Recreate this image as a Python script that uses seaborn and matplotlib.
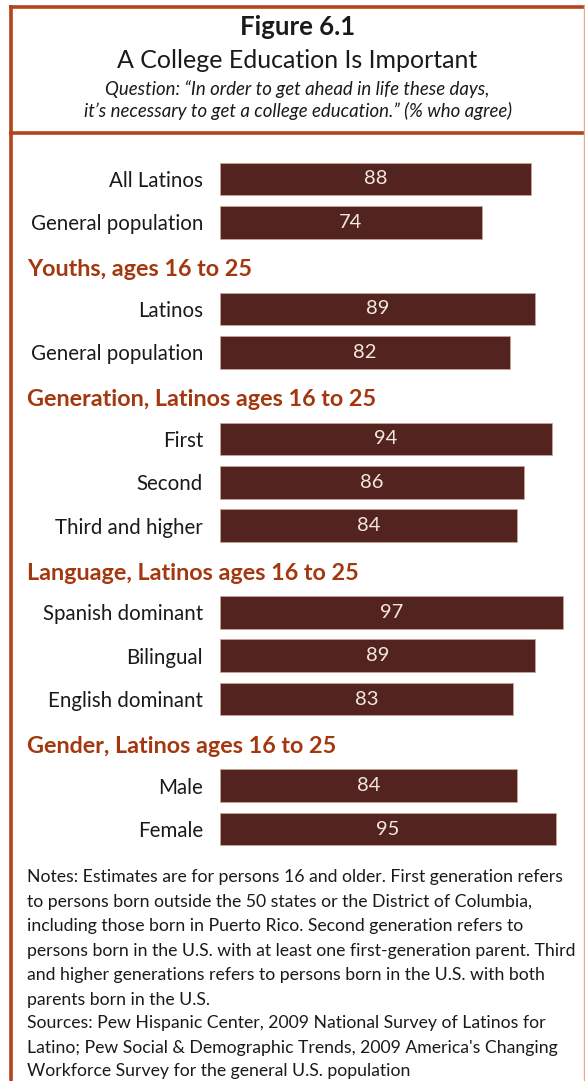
import pandas as pd
import seaborn as sns
import matplotlib.pyplot as plt
from matplotlib.transforms import blended_transform_factory
from matplotlib.lines import Line2D

# ---- data -------------------------------------------------------------
overall_labels = ["All Latinos", "General population"]
overall_values = [88, 74]

youth_title = "Youths, ages 16 to 25"
youth_labels = ["Latinos", "General population"]
youth_values = [89, 82]

generation_title = "Generation, Latinos ages 16 to 25"
generation_labels = ["First", "Second", "Third and higher"]
generation_values = [94, 86, 84]

language_title = "Language, Latinos ages 16 to 25"
language_labels = ["Spanish dominant", "Bilingual", "English dominant"]
language_values = [97, 89, 83]

gender_title = "Gender, Latinos ages 16 to 25"
gender_labels = ["Male", "Female"]
gender_values = [84, 95]

fig_title = "Figure 6.1"
fig_subtitle = "A College Education Is Important"
question_lines = [
    "Question: \u201cIn order to get ahead in life these days,",
    "it\u2019s necessary to get a college education.\u201d (% who agree)",
]
note_lines = [
    "Notes: Estimates are for persons 16 and older. First generation refers",
    "to persons born outside the 50 states or the District of Columbia,",
    "including those born in Puerto Rico. Second generation refers to",
    "persons born in the U.S. with at least one first-generation parent. Third",
    "and higher generations refers to persons born in the U.S. with both",
    "parents born in the U.S.",
    "Sources: Pew Hispanic Center, 2009 National Survey of Latinos for",
    "Latino; Pew Social & Demographic Trends, 2009 America's Changing",
    "Workforce Survey for the general U.S. population",
]

# ---- table of rows (section headers get an empty slot) -----------------
sections = [
    (None, overall_labels, overall_values),
    (youth_title, youth_labels, youth_values),
    (generation_title, generation_labels, generation_values),
    (language_title, language_labels, language_values),
    (gender_title, gender_labels, gender_values),
]
order, tick_labels, header_rows, records = [], [], [], []
for title, labels, values in sections:
    if title is not None:
        header_rows.append((len(order), title))
        order.append("#" + title)
        tick_labels.append("")
    for lab, val in zip(labels, values):
        key = f"{title}|{lab}"
        order.append(key)
        tick_labels.append(lab)
        records.append({"key": key, "value": val})
df = pd.DataFrame(records)

# ---- style ------------------------------------------------------------
sns.set_style("white")
plt.rcParams["font.family"] = ["Lato", "DejaVu Sans"]

BAR = "#532320"
BAR_EDGE = "#caa294"
HEAD = "#a3380f"
FRAME = "#b4441c"
TEXT = "#1a1a1a"

W, H = 585, 1081
fig = plt.figure(figsize=(W / 100, H / 100), dpi=100)
fig.patch.set_facecolor("white")

# axes placement in pixels: value 0 at x=220, 100 at x=573; rows 43.33 px apart
x0, x1 = 220, 573.4
y_top, y_bot = 157.3, 850.7
ax = fig.add_axes([x0 / W, 1 - y_bot / H, (x1 - x0) / W, (y_bot - y_top) / H])

sns.barplot(data=df, x="value", y="key", order=order, orient="h",
            color=BAR, saturation=1, width=0.76,
            edgecolor=BAR_EDGE, linewidth=0.6, ax=ax)

ax.set_xlim(0, 100)
ax.set_ylim(len(order) - 0.5, -0.5)
ax.set_yticks(range(len(order)))
ax.set_yticklabels(tick_labels, fontsize=14.8, color=TEXT)
ax.tick_params(axis="y", length=0, pad=12.2)
ax.xaxis.set_visible(False)
ax.set_ylabel("")
for s in ax.spines.values():
    s.set_visible(False)
ax.set_facecolor("none")

ax.bar_label(ax.containers[0], fmt="%.0f", label_type="center",
             color="#f4e8dc", fontsize=14.5)

trans = blended_transform_factory(fig.transFigure, ax.transData)
for row, title in header_rows:
    ax.text(27 / W, row + 0.1, title, transform=trans, ha="left", va="center",
            fontsize=16.8, fontweight="bold", color=HEAD)

# ---- heading ----------------------------------------------------------
cx = 297.5 / W
fig.text(cx, 1 - 27 / H, fig_title, ha="center", va="center",
         fontsize=18.5, fontweight="bold", color=TEXT)
fig.text(cx, 1 - 61 / H, fig_subtitle, ha="center", va="center",
         fontsize=18, color=TEXT)
for i, line in enumerate(question_lines):
    fig.text(cx, 1 - (89 + 22 * i) / H, line, ha="center", va="center",
             fontsize=13.4, style="italic", color=TEXT)

# ---- notes ------------------------------------------------------------
note_y = [877, 902, 926, 951, 975, 1000, 1023, 1048, 1071]
for y, line in zip(note_y, note_lines):
    fig.text(27 / W, 1 - y / H, line, ha="left", va="center",
             fontsize=12.7, color=TEXT)

# ---- frame ------------------------------------------------------------
def hline(y, xa, xb, color, lw):
    fig.add_artist(Line2D([xa / W, xb / W], [1 - y / H, 1 - y / H],
                          color=color, lw=lw, solid_capstyle="butt"))

def vline(x, ya, yb, color, lw):
    fig.add_artist(Line2D([x / W, x / W], [1 - ya / H, 1 - yb / H],
                          color=color, lw=lw, solid_capstyle="butt"))

hline(6.5, 9, W, FRAME, 2.6)
hline(132.5, 9, W, FRAME, 2.6)
vline(11, 5, H, FRAME, 2.6)
vline(584, 5, H, "#e4a98e", 1.0)

fig.savefig("out.png", dpi=100, facecolor="white")
